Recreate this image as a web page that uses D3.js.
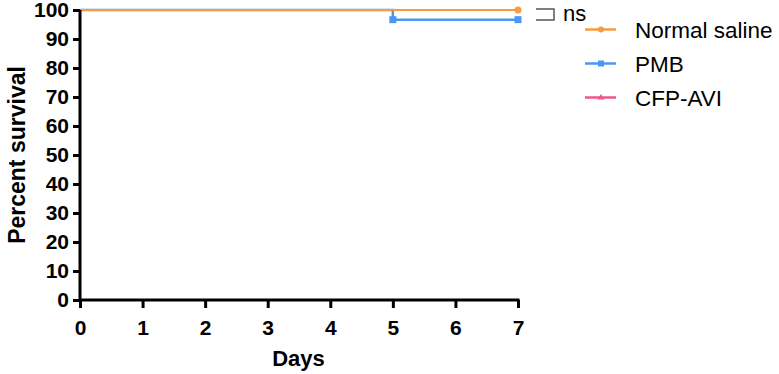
<!DOCTYPE html>
<html><head><meta charset="utf-8">
<script src="https://cdn.jsdelivr.net/npm/d3@7"></script>
<style>body{margin:0;background:#fff}svg{display:block}</style>
</head><body>
<script>
const seriesNames = ["Normal saline", "PMB", "CFP-AVI"];
const colors = ["#F89B3C", "#4C97F2", "#F0558E"];
const days = [0, 1, 2, 3, 4, 5, 6, 7];
const yTicks = [0,10,20,30,40,50,60,70,80,90,100];
// survival steps: [day, percent]
const salineSurv = [[0,100],[7,100]];
const pmbSurv = [[0,100],[5,100],[5,96.67],[7,96.67]];
const cfpSurv = [[0,100],[7,100]];
const pmbCensor = [[5,96.67],[7,96.67]];
const salineCensor = [[7,100]];

const W=779,H=374;
const svg=d3.select("body").append("svg").attr("width",W).attr("height",H);
const x=d3.scaleLinear().domain([0,7]).range([80,518]);
const y=d3.scaleLinear().domain([0,100]).range([300,10]);
const font="'Liberation Sans', Arial, sans-serif";

const line=d3.line().x(d=>x(d[0])).y(d=>y(d[1]));
svg.append("path").datum(cfpSurv).attr("d",line).attr("fill","none").attr("stroke",colors[2]).attr("stroke-width",2);
svg.append("path").datum(pmbSurv).attr("d",line).attr("fill","none").attr("stroke",colors[1]).attr("stroke-width",2.5);
svg.append("path").datum(salineSurv).attr("d",line).attr("fill","none").attr("stroke",colors[0]).attr("stroke-width",2);
svg.selectAll(".pm").data(pmbCensor).enter().append("rect")
  .attr("x",d=>x(d[0])-3.5).attr("y",d=>y(d[1])-3.5).attr("width",7).attr("height",7).attr("fill",colors[1]);
svg.selectAll(".sm").data(salineCensor).enter().append("circle")
  .attr("cx",d=>x(d[0])).attr("cy",d=>y(d[1])).attr("r",3.5).attr("fill",colors[0]);

// axes
const xa=svg.append("g").attr("transform","translate(0,300)")
  .call(d3.axisBottom(x).tickValues(days).tickFormat(d3.format("d")).tickSize(8).tickPadding(12));
const ya=svg.append("g").attr("transform","translate(80,0)")
  .call(d3.axisLeft(y).tickValues(yTicks).tickSize(7).tickPadding(4));
[xa,ya].forEach(a=>{
  a.select(".domain").attr("stroke","#000").attr("stroke-width",3);
  a.selectAll(".tick line").attr("stroke","#000").attr("stroke-width",3);
  a.selectAll("text").attr("font-family",font).attr("font-weight","bold").attr("font-size",21).attr("fill","#000");
});
ya.select(".domain").attr("d","M0,301.5V10");
xa.select(".domain").attr("d","M78.5,0H519.5");

svg.append("text").attr("x",298.5).attr("y",366).attr("text-anchor","middle")
  .attr("font-family",font).attr("font-weight","bold").attr("font-size",22).text("Days");
svg.append("text").attr("transform","translate(25,155) rotate(-90)").attr("text-anchor","middle")
  .attr("font-family",font).attr("font-weight","bold").attr("font-size",23).text("Percent survival");

// ns bracket
svg.append("path").attr("d","M536,9H554V20H536").attr("fill","none").attr("stroke","#555").attr("stroke-width",1.5);
svg.append("text").attr("x",563).attr("y",20.5).attr("font-family",font).attr("font-size",22).attr("fill","#000").text("ns");

// legend
const lg=svg.append("g");
seriesNames.forEach((n,i)=>{
  const yy=29.5+i*34;
  lg.append("line").attr("x1",585).attr("x2",616).attr("y1",yy).attr("y2",yy).attr("stroke",colors[i]).attr("stroke-width",2.5);
  if(i===0) lg.append("circle").attr("cx",601).attr("cy",yy).attr("r",3).attr("fill",colors[i]);
  else if(i===1) lg.append("rect").attr("x",598).attr("y",yy-3).attr("width",6).attr("height",6).attr("fill",colors[i]);
  else lg.append("path").attr("d",`M601,${yy-3.5}L604.5,${yy+2}H597.5Z`).attr("fill",colors[i]);
  lg.append("text").attr("x",635).attr("y",yy+8.5).attr("font-family",font).attr("font-size",22.5).attr("fill","#000").text(n);
});
</script>
</body></html>
